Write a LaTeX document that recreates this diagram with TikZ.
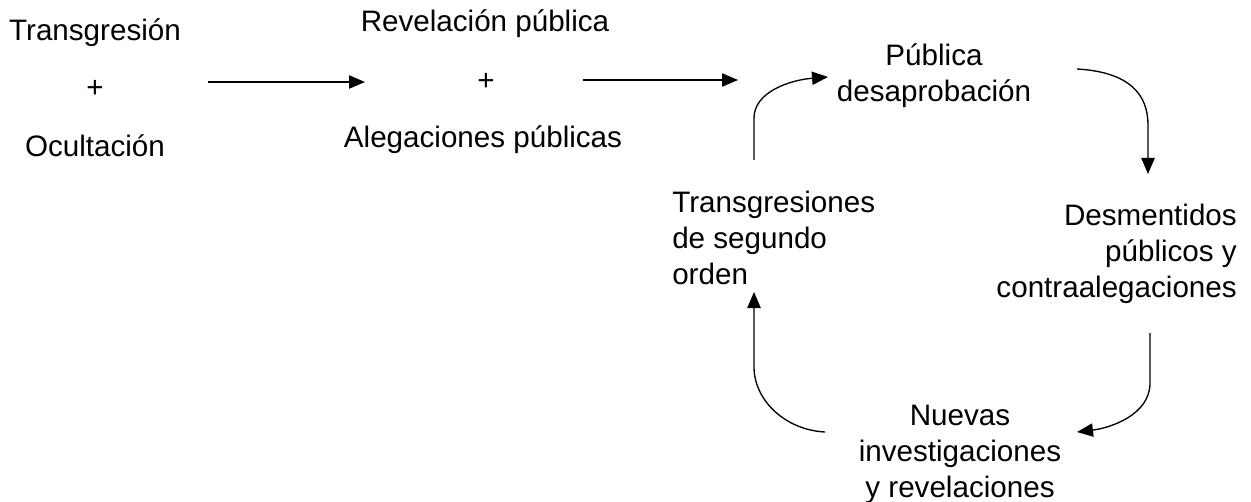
\documentclass[tikz,border=0pt]{standalone}
\usepackage{fontspec}
\setmainfont{Liberation Sans}
\usetikzlibrary{arrows.meta}
\tikzset{
  lbl/.style={inner sep=0pt, font=\fontsize{22.2}{27}\selectfont},
  conn/.style={line width=1pt, -{Triangle[length=12pt,width=10pt]}},
}
\begin{document}
\begin{tikzpicture}[x=0.75pt,y=-0.75pt]
\useasboundingbox (0,0) rectangle (1251,502);
% left group
\node[lbl, anchor=base] (t1) at (95,41) {Transgresión};
\node[lbl] (p1) at (95,89) {+};
\node[lbl, anchor=base] (o1) at (95,157) {Ocultación};
% middle group
\node[lbl, anchor=base] (r1) at (485,32) {Revelación pública};
\node[lbl] (p2) at (486,82) {+};
\node[lbl, anchor=base] (a1) at (483,148) {Alegaciones públicas};
% cycle
\node[lbl, align=center] (pd) at (934,76) {Pública\\desaprobación};
\node[lbl, align=right, anchor=east] (dm) at (1237,254) {Desmentidos\\públicos y\\contraalegaciones};
\node[lbl, align=center] (nv) at (960,454) {Nuevas\\investigaciones\\y revelaciones};
\node[lbl, align=left, anchor=west] (ts) at (672,238) {Transgresiones\\de segundo\\orden};
% connector end points
\coordinate (s1) at (208,82);  \coordinate (e1) at (365,82);
\coordinate (s2) at (583,80);  \coordinate (e2) at (738,80);
\coordinate (s3) at (754,160); \coordinate (e3) at (828,77);
\coordinate (s4) at (1077,69); \coordinate (e4) at (1148,174);
\coordinate (s5) at (1150,333); \coordinate (e5) at (1077,432);
\coordinate (s6) at (825,432); \coordinate (e6) at (754,292);
\draw[conn] (s1) -- (e1);
\draw[conn] (s2) -- (e2);
\draw[conn] (s3) -- (754,118) .. controls (754,92) and (790,80) .. (e3);
\draw[conn] (s4) .. controls (1130,72) and (1148,95) .. (1148,125) -- (e4);
\draw[conn] (s5) -- (1150,383) .. controls (1150,415) and (1110,428) .. (e5);
\draw[conn] (s6) .. controls (785,430) and (754,400) .. (754,367) -- (e6);
\end{tikzpicture}
\end{document}
